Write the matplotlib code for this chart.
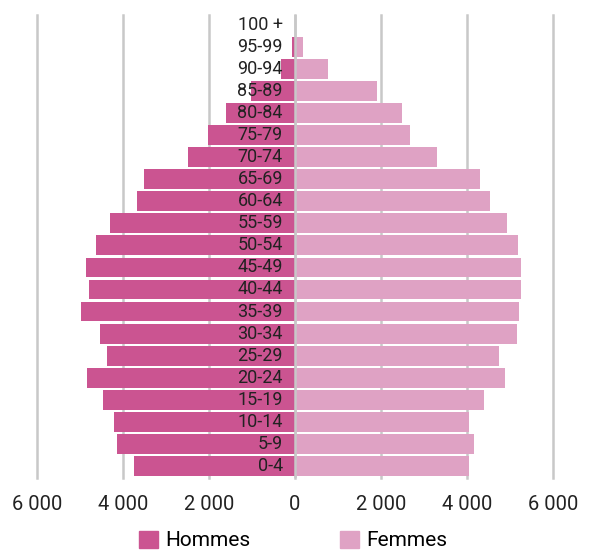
import matplotlib
matplotlib.use("Agg")
import matplotlib.pyplot as plt
from matplotlib.ticker import FuncFormatter
from matplotlib.patches import Patch

plt.rcParams['font.family'] = ['Roboto', 'DejaVu Sans']

# tranches d'âge, de la plus jeune à la plus âgée
ages = ["0-4", "5-9", "10-14", "15-19", "20-24", "25-29", "30-34", "35-39",
        "40-44", "45-49", "50-54", "55-59", "60-64", "65-69", "70-74",
        "75-79", "80-84", "85-89", "90-94", "95-99", "100 +"]
hommes = [3740, 4140, 4210, 4470, 4840, 4370, 4530, 4980, 4790, 4860, 4630,
          4300, 3670, 3510, 2490, 2020, 1600, 1020, 325, 70, 0]
femmes = [4050, 4160, 4050, 4400, 4880, 4740, 5160, 5210, 5260, 5260, 5190,
          4930, 4530, 4300, 3300, 2670, 2490, 1900, 765, 185, 0]

c_h = "#cb5491"
c_f = "#dfa2c4"
grid_c = "#c8c8c8"

fig = plt.figure(figsize=(5.9, 5.51), dpi=100)
ax = fig.add_axes([0.0627, 0.1325, 0.8746, 0.8403])

y = list(range(len(ages)))
ax.barh(y, [-v for v in hommes], height=0.9, color=c_h, zorder=2)
ax.barh(y, femmes, height=0.9, color=c_f, zorder=2)

ax.set_xlim(-6000, 6000)
ax.set_ylim(-0.55, len(ages) - 0.55)
ax.set_xticks([-6000, -4000, -2000, 0, 2000, 4000, 6000])
ax.xaxis.set_major_formatter(FuncFormatter(lambda v, p: f"{abs(int(v)):,}".replace(",", " ")))
ax.tick_params(axis='x', length=0, pad=12, labelsize=14.5, labelcolor="#222222")
ax.set_yticks([])
for s in ax.spines.values():
    s.set_visible(False)

ax.grid(axis='x', color=grid_c, linewidth=1.8, zorder=0)
ax.set_axisbelow(True)
for gl in ax.get_xgridlines():
    gl.set_clip_on(False)
ax.axvline(0, color=grid_c, linewidth=1.8, zorder=3)

# étiquettes des tranches au centre
for yi, lab in zip(y, ages):
    ax.text(-280, yi, lab, ha='right', va='center', fontsize=13,
            color="#222222", zorder=4)

handles = [Patch(color=c_h, label="Hommes"), Patch(color=c_f, label="Femmes")]
fig.legend(handles=handles, loc='center', bbox_to_anchor=(0.497, 0.019),
           ncol=2, frameon=False, fontsize=15, handlelength=0.9,
           handleheight=0.9, handletextpad=0.35, columnspacing=4.3,
           borderpad=0.2)

fig.savefig("out.png", dpi=100)
